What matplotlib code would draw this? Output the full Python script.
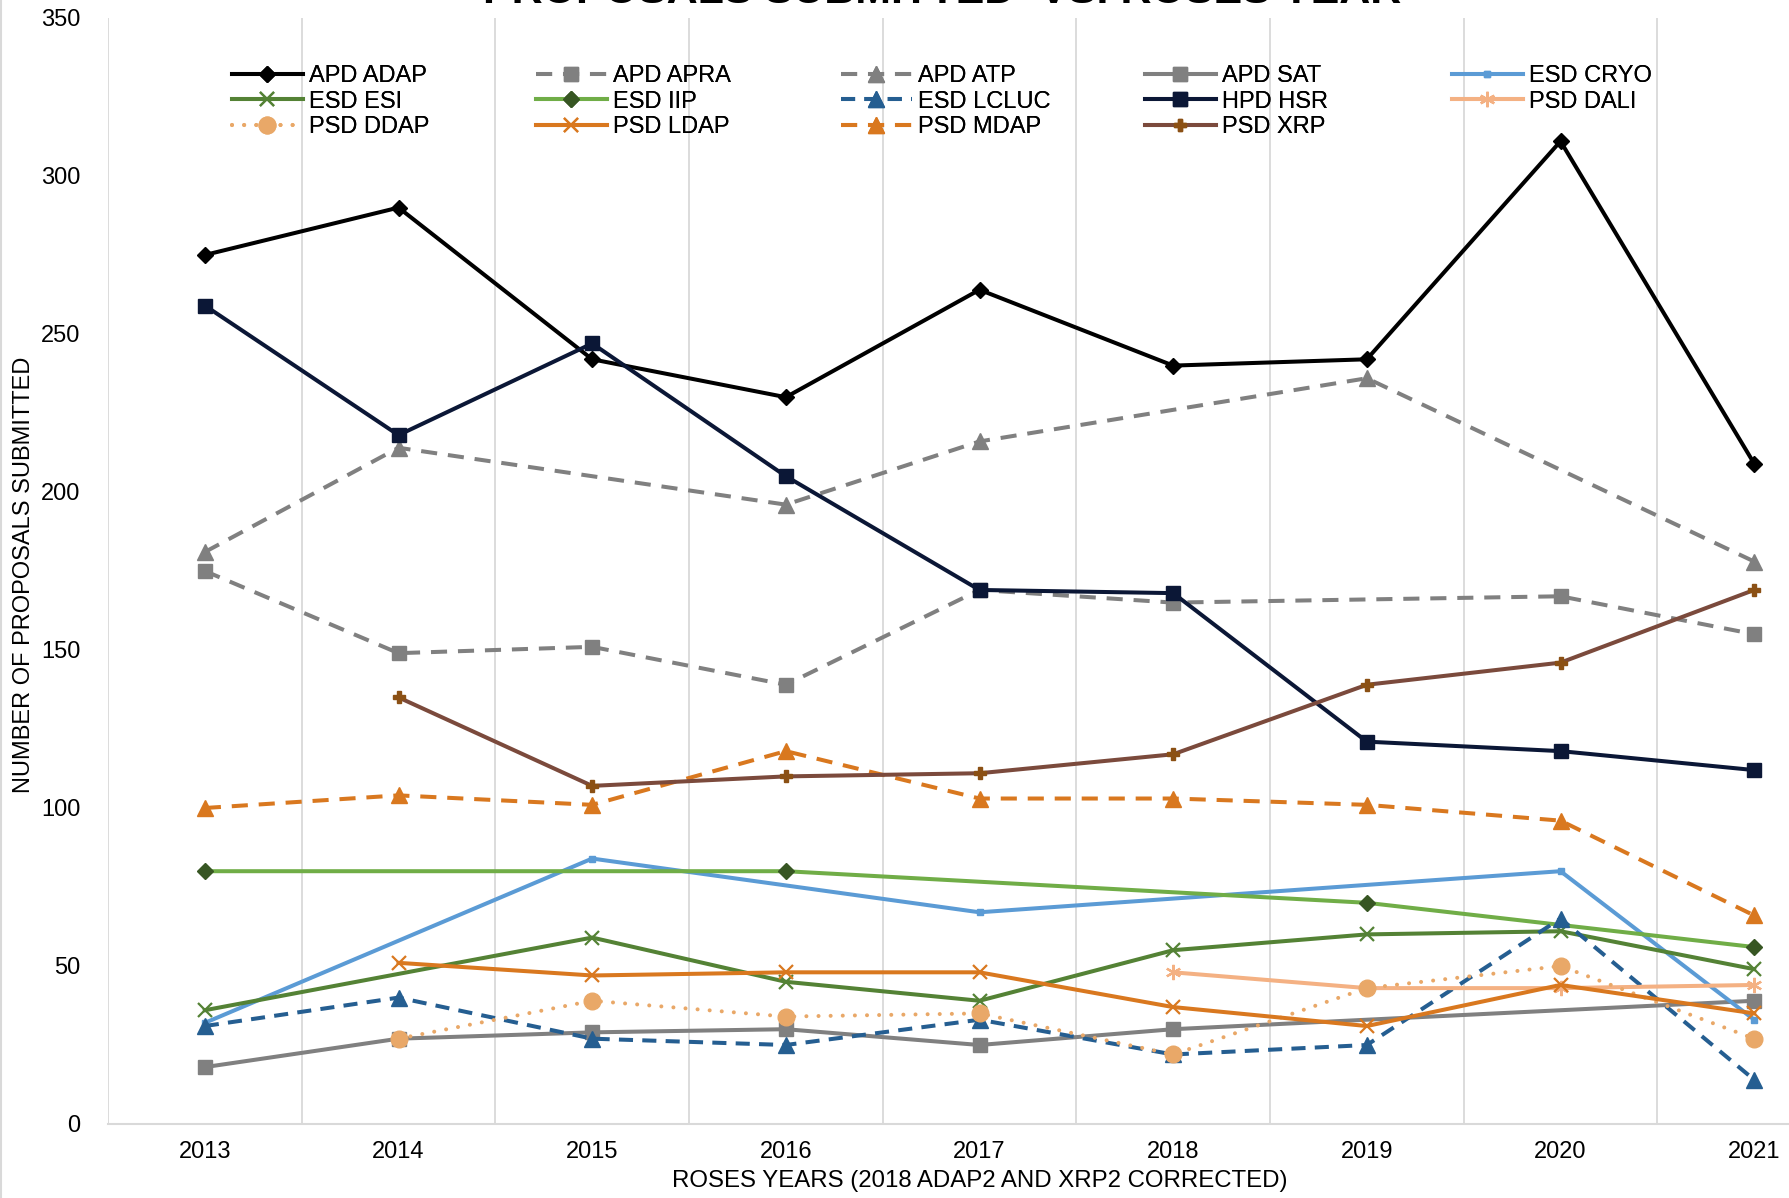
import numpy as np
import matplotlib
matplotlib.use("Agg")
import matplotlib.pyplot as plt
from matplotlib.lines import Line2D

plt.rcParams['font.family'] = ['Liberation Sans', 'DejaVu Sans']

nan = np.nan
years = [2013, 2014, 2015, 2016, 2017, 2018, 2019, 2020, 2021]

# ---------- DATA (nan = no value that year) --------------------------------
apd_adap = [275, 290, 242, 230, 264, 240, 242, 311, 209]
apd_apra = [175, 149, 151, 139, 169, 165, nan, 167, 155]
apd_atp = [181, 214, nan, 196, 216, nan, 236, nan, 178]
apd_sat = [18, 27, 29, 30, 25, 30, nan, nan, 39]
esd_cryo = [32, nan, 84, nan, 67, nan, nan, 80, 33]
esd_esi = [36, nan, 59, 45, 39, 55, 60, 61, 49]
esd_iip = [80, nan, nan, 80, nan, nan, 70, nan, 56]
esd_lcluc = [31, 40, 27, 25, 33, 22, 25, 65, 14]
hpd_hsr = [259, 218, 247, 205, 169, 168, 121, 118, 112]
psd_dali = [nan, nan, nan, nan, nan, 48, 43, 43, 44]
psd_ddap = [nan, 27, 39, 34, 35, 22, 43, 50, 27]
psd_ldap = [nan, 51, 47, 48, 48, 37, 31, 44, 35]
psd_mdap = [100, 104, 101, 118, 103, 103, 101, 96, 66]
psd_xrp = [nan, 135, 107, 110, 111, 117, 139, 146, 169]

DASH = (4, 2.7)
DOT = (0.01, 3.0)

# name, values, line colour, linestyle dashes, marker, marker size, marker colour
series = [
    ("APD ADAP", apd_adap, "#000000", None, "D", 8, "#000000"),
    ("APD APRA", apd_apra, "#808080", DASH, "s", 10, "#808080"),
    ("APD ATP", apd_atp, "#808080", DASH, "^", 11, "#808080"),
    ("APD SAT", apd_sat, "#808080", None, "s", 10, "#808080"),
    ("ESD CRYO", esd_cryo, "#5B9BD5", None, "s", 4, "#5B9BD5"),
    ("ESD ESI", esd_esi, "#548235", None, "x", 10, "#548235"),
    ("ESD IIP", esd_iip, "#70AD47", None, "D", 8, "#375623"),
    ("ESD LCLUC", esd_lcluc, "#255E91", (3.5, 2.3), "^", 11, "#255E91"),
    ("HPD HSR", hpd_hsr, "#0B1736", None, "s", 10, "#0B1736"),
    ("PSD DALI", psd_dali, "#F4B183", None, (6, 2, 0), 11, "#F4B183"),
    ("PSD DDAP", psd_ddap, "#E9A868", DOT, "o", 12, "#E9A868"),
    ("PSD LDAP", psd_ldap, "#D9781F", None, "x", 10, "#D9781F"),
    ("PSD MDAP", psd_mdap, "#D9781F", DASH, "^", 11, "#D9781F"),
    ("PSD XRP", psd_xrp, "#7B4A3C", None, "P", 8, "#8B5014"),
]

fig = plt.figure(figsize=(17.9, 11.98), dpi=100)
# plot area runs past the right edge of the picture, as in the reference
ax = fig.add_axes([108 / 1790, 1 - 1124 / 1198, 1743 / 1790, 1106 / 1198])

handles = []
x_all = np.array(years)
for i, (name, vals, col, dashes, mk, ms, mcol) in enumerate(series):
    v = np.array(vals, dtype=float)
    ok = ~np.isnan(v)
    kw = dict(color=col, lw=2.9, marker=mk, markersize=ms,
              markerfacecolor=mcol, markeredgecolor=mcol, zorder=3 + i)
    if mk in ("x", (6, 2, 0)):
        kw['markeredgewidth'] = 1.6
    if dashes is not None:
        kw['linestyle'] = (0, dashes)
        kw['dash_capstyle'] = 'round' if dashes == DOT else 'butt'
    ln, = ax.plot(x_all[ok], v[ok], label=name, **kw)
    handles.append(ln)

ax.set_xlim(2012.5, 2021.5)
ax.set_ylim(0, 350)
ax.set_yticks(range(0, 351, 50))
ax.set_xticks(years)
ax.tick_params(axis='x', length=0, labelsize=17, pad=12)
ax.tick_params(axis='y', length=0, labelsize=17, pad=20)

# vertical grid between years
for xb in np.arange(2012.5, 2021.5, 1.0):
    ax.axvline(xb, color="#D9D9D9", lw=1.3, zorder=1)
for s in ['top', 'right', 'left']:
    ax.spines[s].set_visible(False)
ax.spines['bottom'].set_color("#D9D9D9")
ax.spines['bottom'].set_linewidth(1.5)

ax.set_xlabel("ROSES YEARS (2018 ADAP2 AND XRP2 CORRECTED)", fontsize=17.3, labelpad=5)
fig.text(24 / 1790, 1 - 575 / 1198, "NUMBER OF PROPOSALS SUBMITTED", rotation=90,
         fontsize=17, ha='center', va='center')
fig.text(942 / 1790, 1 - 3 / 1198, "PROPOSALS SUBMITTED  VS. ROSES YEAR",
         fontsize=31, fontweight='bold', ha='center', va='baseline')

# legend: 5 evenly spaced columns, filled row by row
col_x = [232, 536, 841, 1145, 1452]
for c in range(5):
    hs = handles[c::5]
    leg = fig.legend(handles=hs, loc='upper left',
                     bbox_to_anchor=(col_x[c] / 1790, 1 - 65 / 1198),
                     frameon=False, fontsize=17, handlelength=3.0,
                     handletextpad=0.25, labelspacing=0.15, borderpad=0,
                     borderaxespad=0, numpoints=1)
    fig.add_artist(leg)

# chart border on the left
fig.add_artist(Line2D([1.5 / 1790, 1.5 / 1790], [0, 1], color="#D9D9D9", lw=1.5,
                      transform=fig.transFigure))

fig.savefig("out.png", dpi=100)
